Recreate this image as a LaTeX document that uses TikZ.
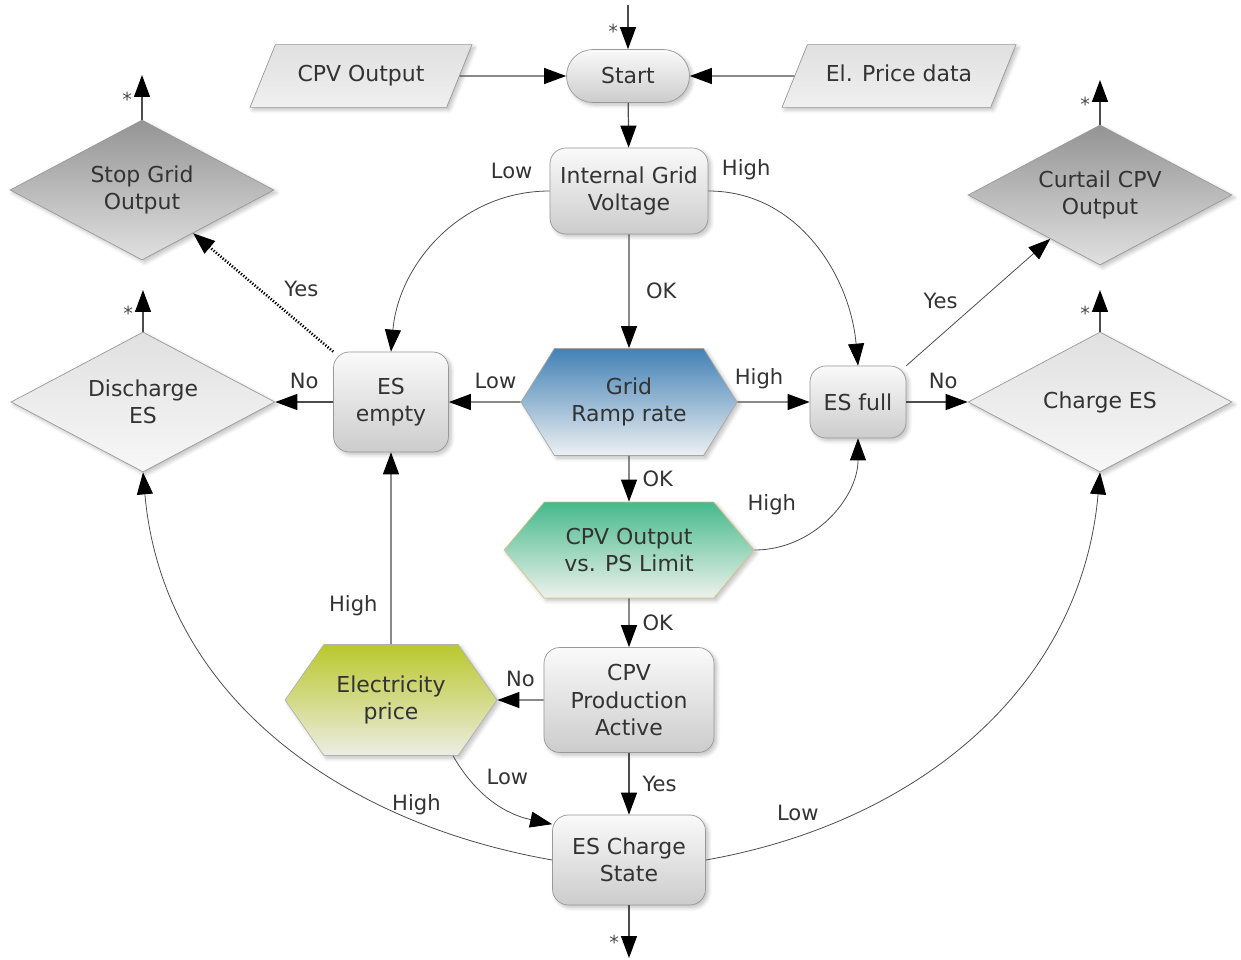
\documentclass[tikz,border=0pt]{standalone}
\usepackage{fontspec}
\setmainfont{DejaVu Sans}
\usetikzlibrary{arrows.meta,shapes.geometric,shapes.symbols,shadows.blur}

\definecolor{rampblue}{HTML}{4281B6}
\definecolor{rampbot}{HTML}{EDF0F2}
\definecolor{limgreen}{HTML}{45B98B}
\definecolor{limbot}{HTML}{EEF2EC}
\definecolor{limedge}{HTML}{D6C38A}
\definecolor{priceyel}{HTML}{BAC82C}
\definecolor{pricebot}{HTML}{ECEDE3}

\begin{document}
\begin{tikzpicture}[x=0.02cm, y=-0.02cm, font=\fontsize{12.5}{15.5}\selectfont]
	\tikzset{
		base/.style={draw=black!40, text=black!80, align=center, inner sep=0pt,
				blur shadow={shadow xshift=1.5pt, shadow yshift=-1.5pt, shadow opacity=25, shadow blur steps=6}},
		box/.style={base, rectangle, rounded corners=9pt, top color=black!2, bottom color=black!20},
		pill/.style={box, rounded corners=15pt},
		io/.style={base, trapezium, trapezium left angle=68, trapezium right angle=112,
				trapezium stretches body, inner ysep=11.6pt, text height=9.5pt, text depth=3pt,
				top color=black!12, bottom color=black!6},
		act/.style={base, diamond, aspect=1.9, minimum width=5.28cm, minimum height=2.8cm,
				top color=black!12, bottom color=black!3},
		stopact/.style={act, top color=black!42, bottom color=black!12},
		hex/.style={base, signal, signal to=east and west},
		flow/.style={draw=black!70, line width=0.7pt, -{Triangle[width=0.32cm,length=0.44cm,color=black]}},
		curve/.style={flow, line width=0.45pt},
		lbl/.style={font=\fontsize{12}{14}\selectfont, text=black!80},
		star/.style={font=\fontsize{11}{13}\selectfont, text=black!70, left=2pt},
	}
	\useasboundingbox (0,0) rectangle (1241,960);
	% \draw (0, 0) grid[step=100] (1241, 960);

	\node[pill, minimum width=2.46cm, minimum height=1.06cm] (start) at (628, 76) {Start};
	\node[io, minimum width=4.44cm] (cpv) at (361, 76) {CPV Output};
	\node[io, minimum width=4.68cm] (price) at (899, 76) {El. Price data};
	\node[box, minimum width=3.16cm, minimum height=1.72cm] (igv) at (629, 191) {Internal Grid\\Voltage};

	\node[stopact] (stop) at (142, 190) {Stop Grid\\Output};
	\node[stopact] (cur) at (1100, 195) {Curtail CPV\\Output};
	\node[act] (dis) at (143, 402) {Discharge\\ES};
	\node[act] (chg) at (1100, 402) {Charge ES};

	\node[box, minimum width=2.3cm, minimum height=2cm] (ese) at (391, 402) {ES\\empty};
	\node[hex, minimum width=4.32cm, minimum height=2.14cm, signal pointer angle=116,
		top color=rampblue, bottom color=rampbot, draw=black!35] (gr) at (629, 402) {Grid\\Ramp rate};
	\node[box, minimum width=1.92cm, minimum height=1.44cm] (esf) at (858, 402) {ES full};
	\node[hex, minimum width=5cm, minimum height=1.92cm, signal pointer angle=100,
		top color=limgreen, bottom color=limbot, draw=limedge] (lim) at (629, 550) {CPV Output\\vs. PS Limit};
	\node[box, minimum width=3.4cm, minimum height=2.1cm] (prod) at (629, 700) {CPV\\Production\\Active};
	\node[hex, minimum width=4.24cm, minimum height=2.22cm, signal pointer angle=110,
		top color=priceyel, bottom color=pricebot, draw=black!30] (elec) at (391, 700) {Electricity\\price};
	\node[box, minimum width=3.06cm, minimum height=1.8cm] (esc) at (629, 860) {ES Charge\\State};

	\coordinate (in0) at (628, 5);
	\coordinate (out0) at (629, 958);
	\coordinate (stopout) at (142, 75);
	\coordinate (curout) at (1100, 80);
	\coordinate (disout) at (143, 290);
	\coordinate (chgout) at (1100, 290);

	\draw[flow] (in0) -- node[star, pos=0.6] {*} (start);
	\draw[flow] (cpv) -- (start);
	\draw[flow] (price) -- (start);
	\draw[flow] (start) -- (igv);
	\draw[flow] (igv) -- node[lbl, right=6pt] {OK} (gr);
	\draw[curve] (igv.west) to[out=180, in=85] node[lbl, pos=0.15, above=6pt] {Low} (ese.north);
	\draw[curve] (igv.east) to[out=0, in=95] node[lbl, pos=0.15, above=6pt] {High} (esf.north);

	\draw[flow] (gr) -- node[lbl, pos=0.35, above=4pt] {Low} (ese);
	\draw[flow] (gr) -- node[lbl, pos=0.3, above=4pt] {High} (esf);
	\draw[flow] (ese) -- node[lbl, above=4pt] {No} (dis.east);
	\draw[flow, densely dotted, draw=black, line width=1.5pt] (ese.north west) -- node[lbl, pos=0.4, above right] {Yes} (stop);
	\draw[flow] (esf) -- node[lbl, pos=0.6, above=4pt] {No} (chg.west);
	\draw[flow, line width=0.45pt] (esf.north east) -- node[lbl, pos=0.4, above left] {Yes} (cur);

	\draw[flow] (gr) -- node[lbl, right=4pt] {OK} (lim);
	\draw[curve] (lim.east) to[out=0, in=-90] node[lbl, pos=0.1, above=0.55cm] {High} (esf.south);
	\draw[flow] (lim) -- node[lbl, right=4pt] {OK} (prod);
	\draw[flow] (prod) -- node[lbl, above=4pt] {No} (elec);
	\draw[flow] (elec) -- node[lbl, pos=0.2, left=4pt] {High} (ese);
	\draw[flow] (prod) -- node[lbl, right=4pt] {Yes} (esc);
	\draw[curve] (elec.-42) to[out=-60, in=168] node[lbl, pos=0.35, above right] {Low} (esc.155);
	\draw[curve] (esc.west) to[out=170, in=-85] node[lbl, pos=0.22, above=0pt] {High} (dis.south);
	\draw[curve] (esc.east) to[out=10, in=-95] node[lbl, pos=0.15, above=0.2cm] {Low} (chg.south);
	\draw[flow] (esc) -- node[star, pos=0.7] {*} (out0);

	\draw[flow] (stop) -- node[star, pos=0.45] {*} (stopout);
	\draw[flow] (cur) -- node[star, pos=0.45] {*} (curout);
	\draw[flow] (dis) -- node[star, pos=0.45] {*} (disout);
	\draw[flow] (chg) -- node[star, pos=0.45] {*} (chgout);
\end{tikzpicture}
\end{document}
